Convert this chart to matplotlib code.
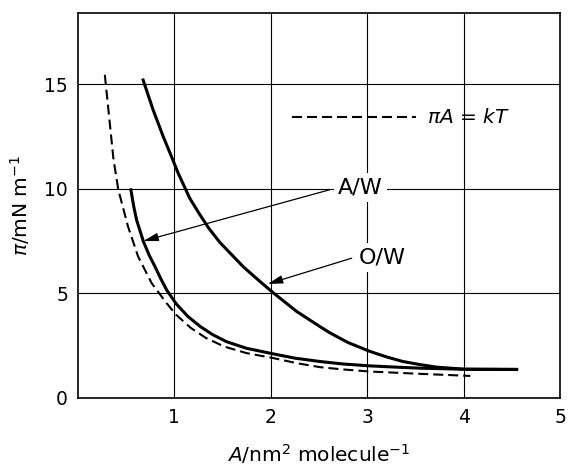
import numpy as np
import matplotlib
matplotlib.use("Agg")
import matplotlib.pyplot as plt

# pressure-area isotherms (A in nm^2 per molecule, pi in mN/m)
ow_area = [0.677, 0.78, 0.885, 0.97, 1.04, 1.16, 1.26, 1.36, 1.47, 1.58, 1.72, 1.89,
           2.03, 2.27, 2.51, 2.61, 2.8, 3.03, 3.2, 3.37, 3.55, 3.72, 4.01, 4.55]
ow_pi = [15.2, 13.78, 12.5, 11.55, 10.75, 9.55, 8.8, 8.1, 7.45, 6.92, 6.25, 5.56,
         5.01, 4.13, 3.41, 3.12, 2.65, 2.22, 1.96, 1.74, 1.59, 1.47, 1.37, 1.36]

aw_area = [0.55, 0.58, 0.61, 0.68, 0.74, 0.80, 0.86, 0.92, 1.02, 1.14, 1.27, 1.4, 1.54,
           1.75, 2.03, 2.25, 2.51, 2.75, 3.03, 3.3, 3.55, 4.01, 4.55]
aw_pi = [9.95, 9.15, 8.5, 7.48, 6.82, 6.28, 5.7, 5.17, 4.5, 3.9, 3.41, 3.02, 2.69,
         2.37, 2.1, 1.9, 1.74, 1.62, 1.53, 1.47, 1.42, 1.37, 1.36]

ideal_area = [0.28, 0.33, 0.37, 0.42, 0.52, 0.625, 0.765, 0.92, 1.02, 1.17, 1.33, 1.52,
              1.75, 2.03, 2.27, 2.51, 2.75, 3.03, 3.55, 4.07]
ideal_pi = [15.45, 13.2, 11.4, 9.95, 8.2, 6.76, 5.49, 4.53, 3.97, 3.35, 2.86, 2.45,
            2.14, 1.9, 1.66, 1.47, 1.36, 1.26, 1.15, 1.05]

x_ticks = [1, 2, 3, 4, 5]
y_ticks = [0, 5, 10, 15]

plt.rcParams["mathtext.fontset"] = "dejavusans"

fig = plt.figure(figsize=(5.68, 4.67), dpi=100)
ax = fig.add_axes([0.137, 0.148, 0.849, 0.824])

dash = (0, (4.8, 2.4))
ax.plot(ow_area, ow_pi, color="black", lw=2.2, solid_joinstyle="round", zorder=3)
ax.plot(aw_area, aw_pi, color="black", lw=2.2, solid_joinstyle="round", zorder=3)
ax.plot(ideal_area, ideal_pi, color="black", lw=1.5, linestyle=dash, zorder=3)

# key for the dashed line
ax.plot([2.22, 3.51], [13.43, 13.43], color="black", lw=1.5, linestyle=dash, zorder=3)
ax.text(3.62, 13.43, r"$\pi A$ = $kT$", fontsize=14.5, va="center", ha="left")

arrow = dict(arrowstyle="-|>,head_length=0.9,head_width=0.25", lw=0.9,
             color="black", shrinkA=0, shrinkB=0)
box = dict(boxstyle="square,pad=0.2", fc="white", ec="none")
ax.annotate("", xy=(0.68, 7.5), xytext=(2.61, 9.95), arrowprops=arrow, zorder=4)
ax.annotate("", xy=(1.97, 5.45), xytext=(2.84, 6.68), arrowprops=arrow, zorder=4)
ax.text(2.93, 10.05, "A/W", fontsize=16, ha="center", va="center", bbox=box, zorder=5)
ax.text(3.16, 6.7, "O/W", fontsize=16, ha="center", va="center", bbox=box, zorder=5)

ax.set_xlim(0, 5)
ax.set_ylim(0, 18.4)
ax.set_xticks(x_ticks)
ax.set_yticks(y_ticks)
ax.tick_params(length=0, labelsize=13.5, pad=7)
ax.grid(True, color="black", lw=0.8, zorder=1)
ax.set_axisbelow(True)
for s in ax.spines.values():
    s.set_linewidth(1.2)

ax.set_xlabel(r"$A$/nm$^2$ molecule$^{-1}$", fontsize=14.5, labelpad=11)
ax.set_ylabel(r"$\pi$/mN m$^{-1}$", fontsize=14.5, labelpad=9)

fig.savefig("out.png", dpi=100)
